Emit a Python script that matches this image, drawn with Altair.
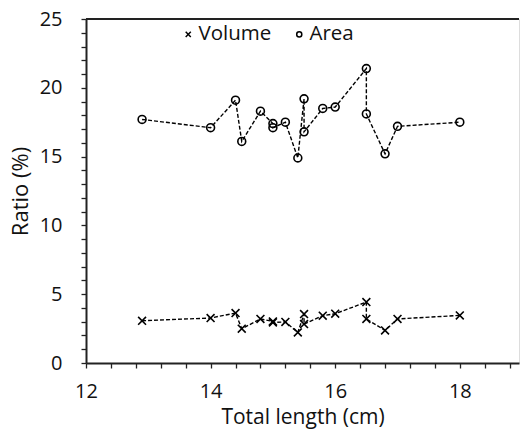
import altair as alt
import pandas as pd

# Data
total_length = [12.9, 14.0, 14.4, 14.5, 14.8, 15.0, 15.0, 15.2, 15.4, 15.5, 15.5, 15.8, 16.0, 16.5, 16.5, 16.8, 17.0, 18.0]
area_ratio = [17.7, 17.1, 19.1, 16.1, 18.3, 17.4, 17.1, 17.5, 14.9, 19.2, 16.8, 18.5, 18.6, 21.4, 18.1, 15.2, 17.2, 17.5]
volume_ratio = [3.07, 3.27, 3.63, 2.49, 3.20, 3.02, 2.95, 2.98, 2.22, 3.56, 2.83, 3.44, 3.58, 4.43, 3.20, 2.37, 3.20, 3.46]
series_names = ["Volume", "Area"]
x_ticks = [round(12 + 0.4 * k, 1) for k in range(18)]
y_ticks = list(range(0, 26))

rows = []
for i, (x, v, a) in enumerate(zip(total_length, volume_ratio, area_ratio)):
    rows.append({"x": x, "y": v, "series": "Volume", "order": i})
    rows.append({"x": x, "y": a, "series": "Area", "order": i})
df = pd.DataFrame(rows)

FONT = "Open Sans"
AX = "#222222"

x_scale = alt.Scale(domain=[12, 18.95], nice=False, zero=False)
y_scale = alt.Scale(domain=[0, 25], nice=False)

x_enc = alt.X("x:Q", scale=x_scale, title="Total length (cm)",
              axis=alt.Axis(values=x_ticks, tickCount=200,
                            labelExpr="abs(datum.value % 2) < 0.001 ? format(datum.value, 'd') : ''",
                            labelOverlap=False, grid=False, ticks=True, tickSize=5, tickColor=AX,
                            tickWidth=1.3, domainColor=AX, domainWidth=2, labelFontSize=20,
                            labelColor="#111", titleFontSize=21, titleFontWeight="normal",
                            titleColor="#111", labelPadding=13, titlePadding=5,
                            labelFont=FONT, titleFont=FONT, labelFlush=False))
y_enc = alt.Y("y:Q", scale=y_scale, title="Ratio (%)",
              axis=alt.Axis(values=y_ticks, tickCount=200,
                            labelExpr="datum.value % 5 == 0 ? format(datum.value, 'd') : ''",
                            labelOverlap=False, grid=False, ticks=True, tickSize=5, tickColor=AX,
                            tickWidth=1.3, domainColor=AX, domainWidth=2, labelFontSize=20,
                            labelColor="#111", titleFontSize=22, titleFontWeight="normal",
                            titleColor="#111", labelPadding=19, titlePadding=7,
                            labelFont=FONT, titleFont=FONT, labelFlush=False))

shape_scale = alt.Scale(domain=series_names, range=["M-1,-1L1,1M1,-1L-1,1", "circle"])

lines = alt.Chart(df).mark_line(color="black", strokeDash=[4, 2], strokeWidth=1.4).encode(
    x=x_enc, y=y_enc, detail="series:N", order="order:Q"
)

points = alt.Chart(df).mark_point(filled=False, color="black", strokeWidth=1.6, size=62, opacity=1).encode(
    x=x_enc, y=y_enc,
    shape=alt.Shape("series:N", scale=shape_scale, title=None,
                    legend=alt.Legend(orient="none", legendX=92, legendY=5, direction="horizontal",
                                      labelFontSize=20.5, labelFont=FONT, labelColor="#111",
                                      symbolSize=26, symbolStrokeWidth=1.5, symbolStrokeColor="black",
                                      symbolFillColor="white", columnPadding=17,
                                      labelOffset=0, padding=0)),
)

top_border = alt.Chart(pd.DataFrame({"y": [25]})).mark_rule(color=AX, strokeWidth=2).encode(
    y=alt.Y("y:Q", scale=y_scale)
)

chart = alt.layer(lines, points, top_border).properties(
    width=433, height=344,
    padding={"left": 86, "top": 19, "right": 1, "bottom": 66},
    autosize=alt.AutoSizeParams(type="none"),
).configure_view(stroke=None).configure(background="white")

chart.save("out.html", embed_options={"renderer": "svg", "actions": False})
